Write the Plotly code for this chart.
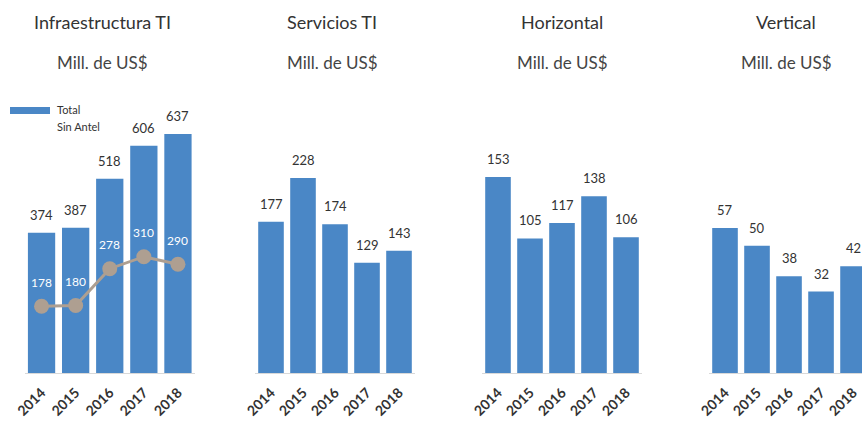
import plotly.graph_objects as go

years = ["2014", "2015", "2016", "2017", "2018"]
titles = ["Infraestructura TI", "Servicios TI", "Horizontal", "Vertical"]
subtitle = "Mill. de US$"
infra_total = [374, 387, 518, 606, 637]
infra_sin_antel = [178, 180, 278, 310, 290]
servicios = [177, 228, 174, 129, 143]
horizontal = [153, 105, 117, 138, 106]
vertical = [57, 50, 38, 32, 42]

series = [infra_total, servicios, horizontal, vertical]

BLUE = "#4A87C6"
LINE = "#AE9F91"
FONT = "Lato"
W, H = 862, 425

x_domains = [[24.5 / W, 195 / W], [255 / W, 415 / W], [482 / W, 642 / W], [709 / W, 1.0]]
x_ranges = [[-0.5, 4.5], [-0.5, 4.5], [-0.5, 4.5], [-0.5, 4.28]]
y_dom = [(H - 373) / H, (H - 80) / H]
y_ranges = [[0, 781], [0, 342.7], [0, 228.7], [0, 115.2]]
title_cx = [102, 332, 562, 786]


def py(p):
    return (H - p) / H


fig = go.Figure()
annotations = []
layout = {}
for i, vals in enumerate(series):
    n = "" if i == 0 else str(i + 1)
    xa, ya = "x" + n, "y" + n
    fig.add_trace(go.Bar(x=years, y=vals, xaxis=xa, yaxis=ya, marker=dict(color=BLUE, line=dict(width=0)),
                         showlegend=False, hoverinfo="x+y"))
    layout["xaxis" + n] = dict(domain=x_domains[i], range=x_ranges[i], anchor=ya, type="category",
                               tickangle=-45, showline=True, linecolor="#D9D9D9", linewidth=1,
                               ticks="", showgrid=False, automargin=False, ticklabelstandoff=5,
                               tickfont=dict(family=FONT, size=14, color="#333333", weight="bold"))
    layout["yaxis" + n] = dict(domain=y_dom, range=y_ranges[i], anchor=xa, showticklabels=False,
                               showgrid=False, zeroline=False, showline=False, automargin=False)
    for k, v in enumerate(vals):
        annotations.append(dict(x=k, y=v, xref=xa, yref=ya, text=str(v), showarrow=False,
                                xanchor="center", yanchor="bottom", yshift=8,
                                font=dict(family=FONT, size=13, color="#333333")))
    cx = title_cx[i] / W
    annotations.append(dict(x=cx, y=py(22), xref="paper", yref="paper", text=titles[i], showarrow=False,
                            xanchor="center", yanchor="middle",
                            font=dict(family=FONT, size=18, color="#333333")))
    annotations.append(dict(x=cx, y=py(63), xref="paper", yref="paper", text=subtitle, showarrow=False,
                            xanchor="center", yanchor="middle",
                            font=dict(family=FONT, size=17, color="#444444")))

fig.add_trace(go.Scatter(x=years, y=infra_sin_antel, xaxis="x", yaxis="y", mode="lines+markers",
                         line=dict(color=LINE, width=3), marker=dict(color=LINE, size=15),
                         showlegend=False, cliponaxis=False))
for k, v in enumerate(infra_sin_antel):
    annotations.append(dict(x=k, y=v, xref="x", yref="y", text=str(v), showarrow=False,
                            xanchor="center", yanchor="middle",
                            yshift=24, font=dict(family=FONT, size=12, color="#FFFFFF")))

# legend
annotations.append(dict(x=55 / W, y=py(110), xref="paper", yref="paper", text="Total",
                        showarrow=False, xanchor="left", yanchor="middle",
                        font=dict(family=FONT, size=11, color="#333333")))
annotations.append(dict(x=55 / W, y=py(126), xref="paper", yref="paper", text="Sin Antel",
                        showarrow=False, xanchor="left", yanchor="middle",
                        font=dict(family=FONT, size=11, color="#333333")))
shapes = [dict(type="rect", xref="paper", yref="paper", x0=10 / W, x1=50 / W,
               y0=py(114), y1=py(107), fillcolor=BLUE, line=dict(width=0))]

fig.update_layout(**layout)
fig.update_layout(width=W, height=H, margin=dict(l=0, r=0, t=0, b=0), bargap=0.2,
                  plot_bgcolor="white", paper_bgcolor="white", annotations=annotations, shapes=shapes,
                  font=dict(family=FONT))
fig.write_html("out.html", config={"displayModeBar": False},
               post_script="document.body.style.margin='0';document.body.style.overflow='hidden';")
